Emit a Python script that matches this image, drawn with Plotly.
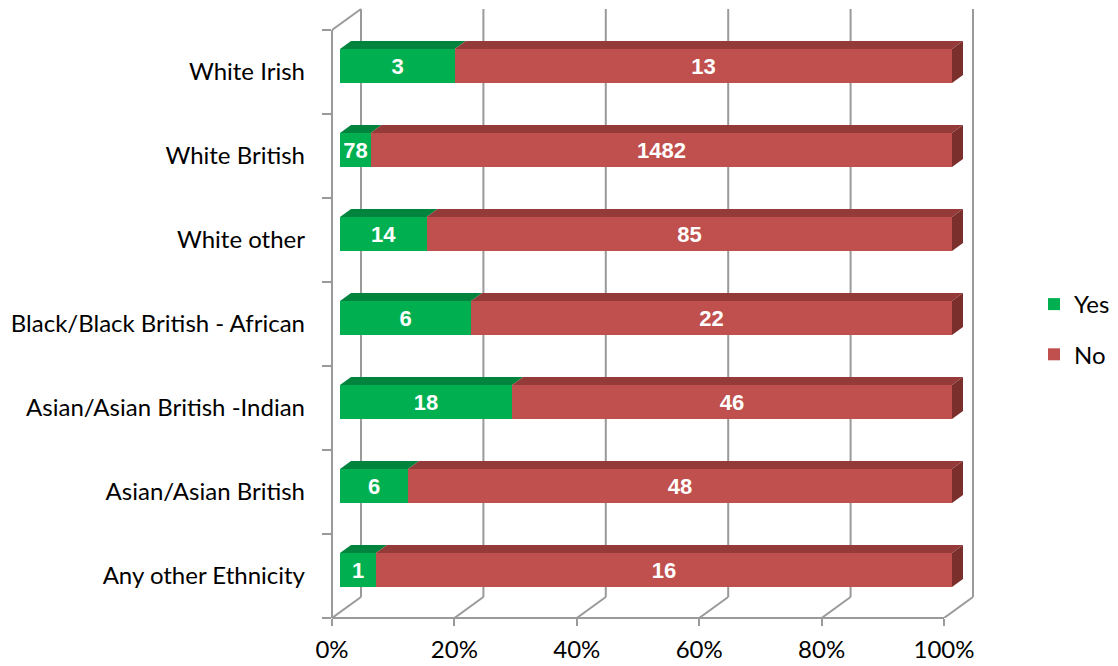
import plotly.graph_objects as go

# ---------------- data ----------------
categories = [
    "White Irish",
    "White British",
    "White other",
    "Black/Black British - African",
    "Asian/Asian British -Indian",
    "Asian/Asian British",
    "Any other Ethnicity",
]
yes_counts = [3, 78, 14, 6, 18, 6, 1]
no_counts = [13, 1482, 85, 22, 46, 48, 16]
x_tick_values = [0, 20, 40, 60, 80, 100]
series_names = ["Yes", "No"]

# ---------------- geometry (pixels) ----------------
PAGE = 8                                # default body margin of the html page
W, H = 1118 - PAGE, 666 - PAGE
L, R, T, B = 332 - PAGE, 975 - PAGE, 8 - PAGE, 618 - PAGE
PX_PER_PCT = 6.12                       # front plane 0%..100%
PX_PER_CAT = 84
WALL_DX, WALL_DY = 29, 21               # depth of the 3-D box
BAR_DX, BAR_DY = 8, 6                   # bar front face offset from front plane
BAR_H = 34
TOP_DX, TOP_DY = 11, 8                  # bar depth

def px_x(p):
    return p / PX_PER_PCT

def px_y(p):
    return p / PX_PER_CAT

n = len(categories)
y_bottom = n - 0.5
y_top_range = y_bottom - px_y(B - T)

GREEN, GREEN_TOP = "#00B050", "#00843D"
RED, RED_TOP, RED_SIDE = "#C0504D", "#943A38", "#7B2F2D"
GRID = "#9A9A9A"
FONT = "Lato"
FS = 24

totals = [a + b for a, b in zip(yes_counts, no_counts)]
yes_pct = [100.0 * a / t for a, t in zip(yes_counts, totals)]
no_pct = [100.0 * b / t for b, t in zip(no_counts, totals)]

ypos = list(range(n))
bar_y = [i - px_y(BAR_DY) for i in ypos]
x0_off = px_x(BAR_DX)

fig = go.Figure()
fig.add_trace(go.Bar(
    y=bar_y, x=yes_pct, base=[x0_off] * n, orientation="h",
    width=px_y(BAR_H), name=series_names[0], legendgroup="yes",
    marker=dict(color=GREEN, line=dict(width=0)),
    text=[str(v) for v in yes_counts], textposition="inside",
    insidetextanchor="middle", constraintext="none",
    textfont=dict(family="Liberation Sans", size=22, color="white", weight="bold"),
    hoverinfo="skip",
))
fig.add_trace(go.Bar(
    y=bar_y, x=no_pct, base=[x0_off + p for p in yes_pct], orientation="h",
    width=px_y(BAR_H), name=series_names[1], legendgroup="no",
    marker=dict(color=RED, line=dict(width=0)),
    text=[str(v) for v in no_counts], textposition="inside",
    insidetextanchor="middle", constraintext="none",
    textfont=dict(family="Liberation Sans", size=22, color="white", weight="bold"),
    hoverinfo="skip",
))

shapes = []
wdx, wdy = px_x(WALL_DX), px_y(WALL_DY)
line = dict(color=GRID, width=2)

# back wall gridlines + floor diagonals
for v in x_tick_values:
    shapes.append(dict(type="line", xref="x", yref="y", x0=v + wdx, x1=v + wdx,
                       y0=-0.5 - wdy, y1=y_bottom - wdy, line=line, layer="below"))
    shapes.append(dict(type="line", xref="x", yref="y", x0=v, x1=v + wdx,
                       y0=y_bottom, y1=y_bottom - wdy, line=line, layer="below"))
# left wall top diagonal
shapes.append(dict(type="line", xref="x", yref="y", x0=0, x1=wdx,
                   y0=-0.5, y1=-0.5 - wdy, line=line, layer="below"))
# left wall front line
shapes.append(dict(type="line", xref="paper", yref="y", x0=0, x1=0,
                   y0=-0.5, y1=y_bottom, line=line, layer="below"))
# floor front line
shapes.append(dict(type="line", xref="x", yref="paper", x0=0, x1=100,
                   y0=0, y1=0, line=line, layer="below"))

# 3-D faces of bars
tdx, tdy = px_x(TOP_DX), px_y(TOP_DY)
half = px_y(BAR_H) / 2

def poly(pts):
    return "M " + " L ".join(f"{x},{y}" for x, y in pts) + " Z"

for i in range(n):
    yc = bar_y[i]
    yt, yb = yc - half, yc + half
    segs = [(x0_off, x0_off + yes_pct[i], GREEN_TOP),
            (x0_off + yes_pct[i], x0_off + 100, RED_TOP)]
    for a, b, col in segs:
        shapes.append(dict(type="path", xref="x", yref="y", layer="below",
                           path=poly([(a, yt), (b, yt), (b + tdx, yt - tdy), (a + tdx, yt - tdy)]),
                           fillcolor=col, line=dict(width=0)))
    xe = x0_off + 100
    shapes.append(dict(type="path", xref="x", yref="y", layer="below",
                       path=poly([(xe, yt), (xe + tdx, yt - tdy), (xe + tdx, yb - tdy), (xe, yb)]),
                       fillcolor=RED_SIDE, line=dict(width=0)))

LEG_X, LEG_Y = 1034 - PAGE, 282 - PAGE

fig.update_layout(
    width=W, height=H,
    margin=dict(l=L, r=W - R, t=T, b=H - B, pad=0, autoexpand=False),
    paper_bgcolor="white", plot_bgcolor="white",
    barmode="overlay", bargap=0,
    shapes=shapes,
    uniformtext=dict(minsize=22, mode="show"),
    font=dict(family=FONT, size=FS, color="#000000"),
    showlegend=True,
    legend=dict(x=(LEG_X - L) / (R - L), xanchor="left",
                y=(B - LEG_Y) / (B - T), yanchor="top",
                traceorder="grouped", tracegroupgap=16,
                font=dict(family=FONT, size=FS, color="#000000"),
                bgcolor="rgba(0,0,0,0)", itemwidth=30),
    xaxis=dict(range=[0, px_x(R - L)], tickmode="array", tickvals=x_tick_values,
               ticktext=[f"{v}%" for v in x_tick_values],
               showgrid=False, zeroline=False, showline=False,
               ticks="outside", ticklen=7, tickwidth=2, tickcolor=GRID,
               ticklabelstandoff=3,
               tickfont=dict(family=FONT, size=FS, color="#000000"),
               fixedrange=True),
    yaxis=dict(range=[y_bottom, y_top_range], tickmode="array", tickvals=ypos,
               ticktext=categories, showgrid=False, zeroline=False, showline=False,
               ticks="", ticklabelstandoff=26,
               tickfont=dict(family=FONT, size=FS, color="#000000"),
               minor=dict(tickmode="array", tickvals=[i - 0.5 for i in range(n + 1)],
                          ticks="outside", ticklen=9, tickwidth=2, tickcolor=GRID,
                          showgrid=False),
               fixedrange=True),
)

fig.write_html("out.html")
